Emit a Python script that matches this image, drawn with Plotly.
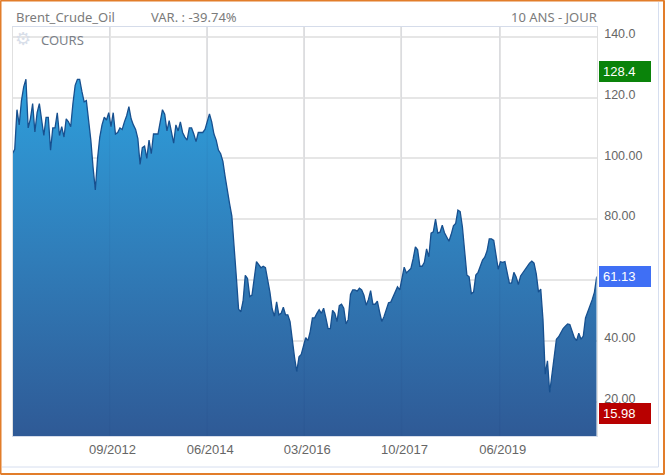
import pandas as pd
import plotly.graph_objects as go

W, H = 665, 475

# Brent close, one value every 14 days
closes = [
    101.6, 103, 116, 111, 119, 123.5, 126, 110, 113, 118,
    108.7, 115, 118, 112, 107.5, 113.5, 113.5, 102.7, 110, 110,
    115, 107.5, 110.4, 107, 113, 112, 110.4, 118, 124, 126,
    126, 122, 118.6, 119, 113, 106, 97, 89.6, 100, 107,
    111, 113.5, 112.6, 115, 110.4, 115, 108, 108.5, 110, 109.5,
    112, 114, 117, 113, 111, 109.5, 106.5, 98, 103.5, 104,
    100, 106, 101.5, 108, 108, 108, 112, 116, 114.5, 109,
    112.4, 108.5, 105, 111, 109, 112, 108.5, 107, 106, 110,
    110, 108, 105.5, 108.5, 108.5, 108.5, 109.5, 112, 114.6, 112,
    108, 106, 102.7, 101.5, 99, 94, 89, 85, 81, 72,
    61, 50.4, 49.5, 53, 61.5, 60.5, 54.5, 55, 60, 66,
    65, 64, 64.5, 64, 60, 56, 50.5, 48, 52.8, 48.5,
    49, 51, 48.5, 48.5, 46.3, 39.5, 34.5, 29.8, 34.7, 35.5,
    38.5, 41, 40, 43, 47.5, 47.5, 49, 50.2, 49, 50.7,
    47.5, 44, 44, 50, 49, 46.3, 51.5, 52, 50.7, 45.5,
    47, 55.2, 56.7, 56.7, 56.3, 57.3, 56.7, 55, 51.7, 53.5,
    56.5, 52, 52, 53, 49.5, 46.3, 48, 50, 52.5, 52.7,
    54.2, 55.8, 57.7, 56.7, 60.5, 64.2, 62.3, 63, 63.8, 67,
    70.9, 69.9, 64.5, 64.5, 65.8, 70.2, 67.6, 75.4, 75.8, 80,
    75.4, 75.7, 78, 75.5, 74, 72.7, 75, 77.8, 78.6, 83,
    82.5, 77.5, 69.5, 61.6, 61, 55.5, 56, 61.6, 62.5, 64.5,
    66.5, 67.5, 69.5, 73.5, 73.5, 73, 67.5, 63.5, 66, 65.8,
    66, 62, 58.9, 59, 62.5, 61, 58.5, 61.3, 62.4, 63.4,
    64.5, 65.5, 66.2, 65.5, 62, 56, 57, 47, 29, 33.4,
    23, 29.5, 35.5, 40.5, 41.3, 42.7, 44, 44.8, 45.5, 45.3,
    43, 41, 40, 42.5, 40.5, 41.5, 47.5, 49.5, 51.2, 53.5,
    56, 61.13,
]
dates = pd.date_range("2011-02-01", periods=len(closes), freq="14D")

x_ticks = ["2012-09-30", "2014-06-03", "2016-01-31", "2017-09-30", "2019-06-06"]
x_labels = ["09/2012", "06/2014", "03/2016", "10/2017", "06/2019"]
y_ticks = [140, 120, 100, 80, 60, 40, 20]
y_labels = ["140.0", "120.0", "100.00", "80.00", "", "40.00", "20.00"]

# name, value, colour of the badges on the right
badges = [("128.4", 128.4, "#0a830a"), ("61.13", 61.13, "#3f6ff5"), ("15.98", 15.98, "#b80000")]

GRID = "#e6e6e6"
ORANGE = "#e27d2a"
TEXT = "#666666"


# pixel position in the page -> paper fraction (margins are zero)
def px(v):
    return v / W


def py(v):
    return 1 - v / H


fig = go.Figure()
fig.add_trace(go.Scatter(
    x=dates, y=closes, mode="lines", fill="tozeroy",
    line=dict(color="#17508f", width=1.3),
    fillgradient=dict(type="vertical", start=126.3, stop=8.65,
                      colorscale=[[0, "#2e9fdc"], [0.5, "#307db9"], [1, "#2f5a96"]]),
    hoverinfo="skip", showlegend=False,
))

fig.update_layout(
    width=W, height=H, margin=dict(l=0, r=0, t=0, b=0),
    paper_bgcolor="white", plot_bgcolor="white",
    font=dict(family="Liberation Sans", size=12, color=TEXT),
    xaxis=dict(
        domain=[px(12.5), px(596.7)], type="date",
        range=[dates[0], dates[-1]],
        tickmode="array", tickvals=x_ticks, ticktext=x_labels,
        tickfont=dict(size=13),
        ticks="", ticklabelshift=3, ticklabelstandoff=1,
        showgrid=True, gridcolor=GRID, gridwidth=1.5, zeroline=False,
        showline=True, linecolor="#d5dcea", mirror=True,
    ),
    yaxis=dict(
        domain=[py(436), py(27)], side="right", range=[8.65, 143.2],
        tickmode="array", tickvals=y_ticks, ticktext=y_labels,
        tickfont=dict(size=12.5),
        ticks="", ticklabelshift=-3, ticklabelstandoff=4,
        showgrid=True, gridcolor=GRID, gridwidth=1.5, zeroline=False,
        showline=True, linecolor="#e0e0e0", mirror=True,
    ),
)

# outer orange frame and the thin inner rule
for x0, y0, x1, y1, col, w in [
    (0.5, 0.5, 664.5, 0.5, ORANGE, 2),
    (0.5, 0.5, 0.5, 474, ORANGE, 2),
    (664, 0.5, 664, 474, ORANGE, 2),
    (0.5, 474, 664.5, 474, ORANGE, 2),
    (658.5, 2, 658.5, 467, "#d6deef", 1),
    (2, 467, 658.5, 467, "#d6deef", 1),
]:
    fig.add_shape(type="line", xref="paper", yref="paper", x0=px(x0), x1=px(x1), y0=py(y0), y1=py(y1),
                  line=dict(color=col, width=w), layer="above")

# gridlines show faintly through the area
for t in x_ticks:
    fig.add_shape(type="line", xref="x", yref="paper", x0=t, x1=t, y0=py(436), y1=py(27),
                  line=dict(color="rgba(25,45,90,0.05)", width=1.2), layer="above")

header_font = dict(family="Noto Sans", size=13, color="#7b7b7b")
for txt, x, anchor in [("Brent_Crude_Oil", 13.5, "left"), ("VAR. : -39.74%", 148.5, "left"), ("10 ANS - JOUR", 599, "right")]:
    fig.add_annotation(text=txt, xref="paper", yref="paper", x=px(x), y=py(17), xanchor=anchor, yanchor="middle",
                       showarrow=False, font=header_font)
fig.add_annotation(text="COURS", xref="paper", yref="paper", x=px(38.5), y=py(40), xanchor="left", yanchor="middle",
                   showarrow=False, font=dict(family="Noto Sans", size=13, color="#7b7f88"))
fig.add_annotation(text="\u2699", xref="paper", yref="paper", x=px(23), y=py(39), xanchor="center", yanchor="middle",
                   showarrow=False, font=dict(family="DejaVu Sans", size=18, color="#d8dee9"))

for label, value, color in badges:
    fig.add_annotation(text=label, xref="paper", yref="y", x=px(598.5), y=value, xanchor="left", yanchor="middle",
                       width=44, height=13, align="left", bgcolor=color, borderpad=3, borderwidth=1,
                       bordercolor=color, showarrow=False,
                       font=dict(family="Liberation Sans", size=13, color="white"))

fig.write_html("out.html", config=dict(displayModeBar=False),
               post_script="document.body.style.margin='0';document.body.style.overflow='hidden';")
